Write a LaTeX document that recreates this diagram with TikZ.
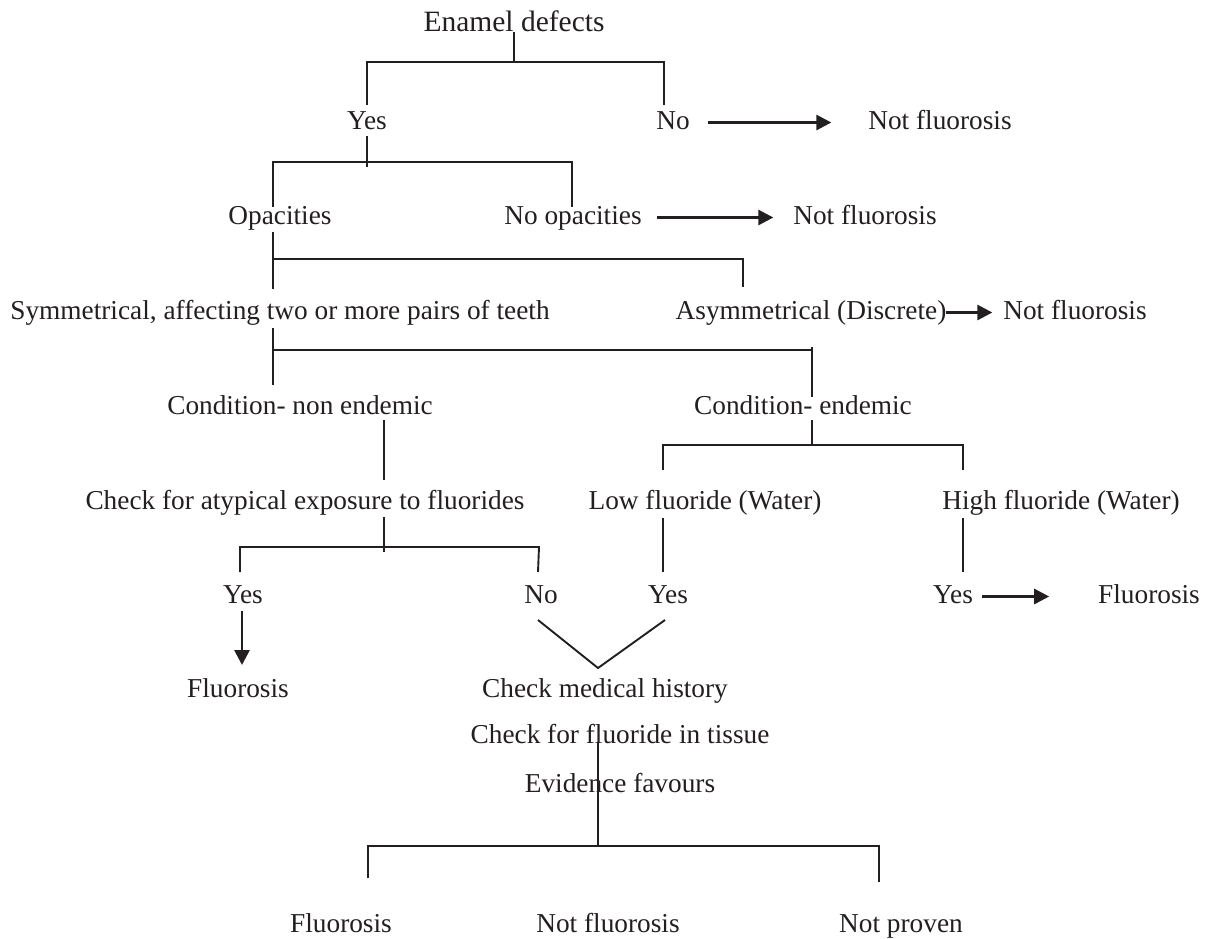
\documentclass[tikz,border=0pt]{standalone}
\usepackage{fontspec}
\setmainfont{Liberation Serif}
\usetikzlibrary{arrows.meta}
\definecolor{ink}{RGB}{35,31,32}
\begin{document}
\begin{tikzpicture}[x=1pt,y=-1pt,
  lbl/.style={inner sep=0pt, outer sep=0pt, text height=19pt, text depth=6pt, anchor=base, text=ink, font=\fontsize{27.3}{30}\selectfont},
  ttl/.style={lbl, text height=21pt, text depth=1pt, font=\fontsize{29.5}{32}\selectfont},
  ln/.style={draw=ink, line width=1.9pt},
  arr/.style={draw=ink, line width=2.7pt, -{Triangle[length=15pt,width=15pt]}}]
\fill[white] (0,0) rectangle (1209,938);
\useasboundingbox (0,0) rectangle (1209,938);

% nodes
\node[ttl] (t) at (514,31) {Enamel defects};
\node[lbl] (y1) at (367,129) {Yes};
\node[lbl] (n1) at (673,129) {No};
\node[lbl] (nf1) at (940,129) {Not fluorosis};
\node[lbl] (op) at (280,224) {Opacities};
\node[lbl] (nop) at (573,224) {No opacities};
\node[lbl] (nf2) at (865,224) {Not fluorosis};
\node[lbl] (sym) at (280,319) {Symmetrical, affecting two or more pairs of teeth};
\node[lbl] (asym) at (811,319) {Asymmetrical (Discrete)};
\node[lbl] (nf3) at (1075,319) {Not fluorosis};
\node[lbl] (cne) at (300,414) {Condition- non endemic};
\node[lbl] (ce) at (803,414) {Condition- endemic};
\node[lbl] (chk) at (305,509) {Check for atypical exposure to fluorides};
\node[lbl] (low) at (705,509) {Low fluoride (Water)};
\node[lbl] (high) at (1061,509) {High fluoride (Water)};
\node[lbl] (y2) at (243,603) {Yes};
\node[lbl] (n2) at (541,603) {No};
\node[lbl] (y3) at (668,603) {Yes};
\node[lbl] (y4) at (953,603) {Yes};
\node[lbl] (fl1) at (1149,603) {Fluorosis};
\node[lbl] (fl2) at (238,697) {Fluorosis};
\node[lbl] (cmh) at (605,697) {Check medical history};
\node[lbl] (cft) at (620,743) {Check for fluoride in tissue};
\node[lbl] (ev) at (620,792) {Evidence favours};
\node[lbl] (fl3) at (341,932) {Fluorosis};
\node[lbl] (nf4) at (608,932) {Not fluorosis};
\node[lbl] (np) at (901,932) {Not proven};

% junction coordinates
\coordinate (b1l) at (367,62);  \coordinate (b1r) at (664,62);
\coordinate (b2c) at (367,167); \coordinate (b2l) at (273,162); \coordinate (b2r) at (572,162);
\coordinate (b3l) at (273,259); \coordinate (b3r) at (743,259);
\coordinate (b4l) at (273,350); \coordinate (b4r) at (812,350);
\coordinate (b5c) at (384,547); \coordinate (b5l) at (240,547); \coordinate (b5r) at (539,547);
\coordinate (b6l) at (663,445); \coordinate (b6r) at (963,445);
\coordinate (vl) at (538,620); \coordinate (vv) at (598,668); \coordinate (vr) at (665,620);
\coordinate (bc) at (598,846); \coordinate (bl) at (368,846); \coordinate (br) at (879,846);

% tree connectors
\draw[ln] (t.south) -- (t.south |- b1l);
\draw[ln] (b1l |- y1.north) ++(0,-5) -- (b1l) -- (b1r) -- ++(0,43);
\draw[ln] (y1.south) ++(0,1) -- (b2c);
\draw[ln] (b2l) ++(0,45) -- (b2l) -- (b2r) -- ++(0,45);
\draw[ln] (b3l |- op.south) ++(0,2) -- ++(0,57);
\draw[ln] (b3l) -- (b3r) -- ++(0,28);
\draw[ln] (b4l |- sym.south) ++(0,3) -- ++(0,57);
\draw[ln] (b4l) -- (b4r);
\draw[ln] (b4r) ++(0,-3) -- ++(0,50);
\draw[ln] (b4r |- ce.south) -- (b4r |- b6l);
\draw[ln] (b6l) ++(0,25) -- (b6l) -- (b6r) -- ++(0,25);
\draw[ln] (b5c |- cne.south) -- ++(0,60);
\draw[ln] (b5c |- chk.south) ++(0,2) -- ++(0,35);
\draw[ln] (b5l) ++(0,25) -- (b5l) -- (b5r) -- ++(-1,25);
\draw[ln] (b6l |- low.south) ++(0,3) -- ++(0,54);
\draw[ln] (b6r |- high.south) ++(0,3) -- ++(0,54);
\draw[ln] (vl) -- (vv) -- (vr);
\draw[ln] (bc |- cft.base) -- (bc);
\draw[ln] (bl) ++(0,32) -- (bl) -- (br) -- ++(0,36);

% arrows
\draw[arr, shorten <=18pt, shorten >=37pt] (n1.east) -- (nf1.west);
\draw[arr, shorten <=15pt, shorten >=20pt] (nop.east) -- (nf2.west);
\draw[arr, shorten >=11pt] (asym.east) -- (nf3.west);
\draw[arr, shorten <=9pt, shorten >=49pt] (y4.east) -- (fl1.west);
\draw[arr, shorten <=2pt, shorten >=13pt] ([xshift=-1pt]y2.south) -- ([xshift=-1pt]y2.south |- fl2.north);
\end{tikzpicture}
\end{document}
